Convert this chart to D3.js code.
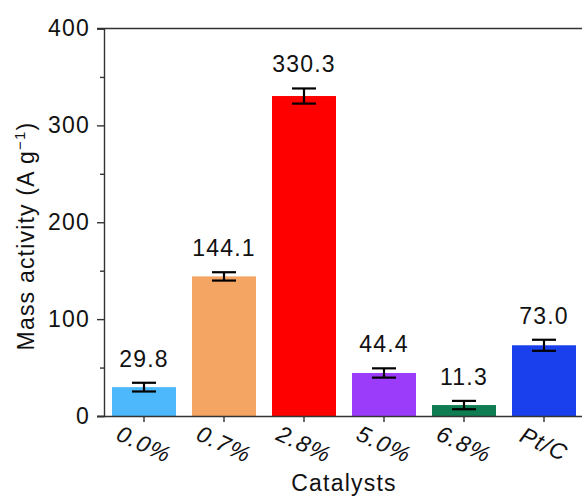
<!DOCTYPE html>
<html>
<head>
<meta charset="utf-8">
<script src="https://cdn.jsdelivr.net/npm/d3@7"></script>
<style>
  html, body { margin: 0; padding: 0; background: #fff; }
  text { font-family: "Liberation Sans", Arial, Helvetica, sans-serif; fill: #111; }
</style>
</head>
<body>
<svg id="chart" width="582" height="500"></svg>
<script>
// Mass activity of the catalysts (A g^-1), with error bars
const categories = ["0.0%", "0.7%", "2.8%", "5.0%", "6.8%", "Pt/C"];
const values = [29.8, 144.1, 330.3, 44.4, 11.3, 73.0];
const errors = [4.5, 4.3, 7.8, 4.8, 4.3, 5.7];
const colors = ["#4db8fb", "#f4a563", "#ff0000", "#9b3cfb", "#0e7d52", "#1a40ee"];
const yTicks = [0, 100, 200, 300, 400];
const yMinorTicks = [50, 150, 250, 350];

const svg = d3.select("#chart");
const plotLeft = 104, plotRight = 584, plotTop = 28.5, plotBottom = 416;
const axisColor = "#333";
const fontSize = 23;
const spacing = "1.2px";

const x = d3.scaleBand().domain(categories).range([plotLeft, plotRight])
  .paddingInner(0.2).paddingOuter(0.1);
const y = d3.scaleLinear().domain([0, 400]).range([plotBottom, plotTop]);

const data = categories.map((c, i) => ({ c, v: values[i], e: errors[i], col: colors[i] }));

// bars
svg.append("g").selectAll("rect").data(data).join("rect")
  .attr("x", d => x(d.c))
  .attr("width", x.bandwidth())
  .attr("y", d => y(d.v))
  .attr("height", d => y(0) - y(d.v))
  .attr("fill", d => d.col);

// error bars
const eb = svg.append("g").attr("stroke", "#000").attr("stroke-width", 2.2).attr("fill", "none");
data.forEach(d => {
  const cx = x(d.c) + x.bandwidth() / 2;
  const hw = 12;
  eb.append("line").attr("x1", cx).attr("x2", cx).attr("y1", y(d.v + d.e)).attr("y2", y(d.v - d.e));
  eb.append("line").attr("x1", cx - hw).attr("x2", cx + hw).attr("y1", y(d.v + d.e)).attr("y2", y(d.v + d.e));
  eb.append("line").attr("x1", cx - hw).attr("x2", cx + hw).attr("y1", y(d.v - d.e)).attr("y2", y(d.v - d.e));
});

// value labels
svg.append("g").selectAll("text").data(data).join("text")
  .attr("x", d => x(d.c) + x.bandwidth() / 2)
  .attr("y", d => y(d.v + d.e) - 16)
  .attr("text-anchor", "middle")
  .style("font-size", fontSize + "px")
  .style("letter-spacing", spacing)
  .text(d => d.v.toFixed(1));

// y axis
const yAxis = svg.append("g").attr("transform", `translate(${plotLeft},0)`)
  .call(d3.axisLeft(y).tickValues(yTicks).tickSize(7).tickPadding(7).tickFormat(d3.format("d")));
yAxis.select(".domain").attr("stroke", axisColor).attr("stroke-width", 1.4);
yAxis.selectAll(".tick line").attr("stroke", axisColor).attr("stroke-width", 1.4);
yAxis.selectAll(".tick text").style("font-size", fontSize + "px").style("letter-spacing", spacing)
  .style("font-family", '"Liberation Sans", Arial, sans-serif').attr("fill", "#111");
svg.append("g").attr("transform", `translate(${plotLeft},0)`)
  .call(d3.axisLeft(y).tickValues(yMinorTicks).tickSize(4).tickFormat(""))
  .call(g => g.select(".domain").remove())
  .selectAll(".tick line").attr("stroke", axisColor).attr("stroke-width", 1.4);

// x axis
const xAxis = svg.append("g").attr("transform", `translate(0,${plotBottom})`)
  .call(d3.axisBottom(x).tickSize(6).tickSizeOuter(0));
xAxis.select(".domain").attr("stroke", axisColor).attr("stroke-width", 1.4)
  .attr("d", `M${plotLeft - 7},0.5H${plotRight}`);
xAxis.selectAll(".tick line").attr("stroke", axisColor).attr("stroke-width", 1.4);
xAxis.selectAll(".tick text")
  .style("font-size", fontSize + "px").style("font-style", "italic")
  .style("letter-spacing", spacing)
  .style("font-family", '"Liberation Sans", Arial, sans-serif').attr("fill", "#111")
  .attr("text-anchor", "middle")
  .attr("y", 0).attr("dy", "0.35em")
  .attr("transform", "translate(0,28) rotate(25)");

// top frame line
svg.append("line").attr("x1", plotLeft - 7).attr("x2", plotRight).attr("y1", plotTop).attr("y2", plotTop)
  .attr("stroke", axisColor).attr("stroke-width", 1.4);

// axis titles
svg.append("text").attr("x", (plotLeft + plotRight) / 2).attr("y", 491)
  .attr("text-anchor", "middle").style("font-size", fontSize + "px").style("letter-spacing", spacing)
  .text("Catalysts");

const yt = svg.append("text")
  .attr("transform", "translate(34,236) rotate(-90)")
  .attr("text-anchor", "middle").style("font-size", fontSize + "px").style("letter-spacing", spacing);
yt.append("tspan").text("Mass activity (A g");
yt.append("tspan").attr("dy", -9).style("font-size", "15px").text("\u22121");
yt.append("tspan").attr("dy", 9).text(")");
</script>
</body>
</html>
